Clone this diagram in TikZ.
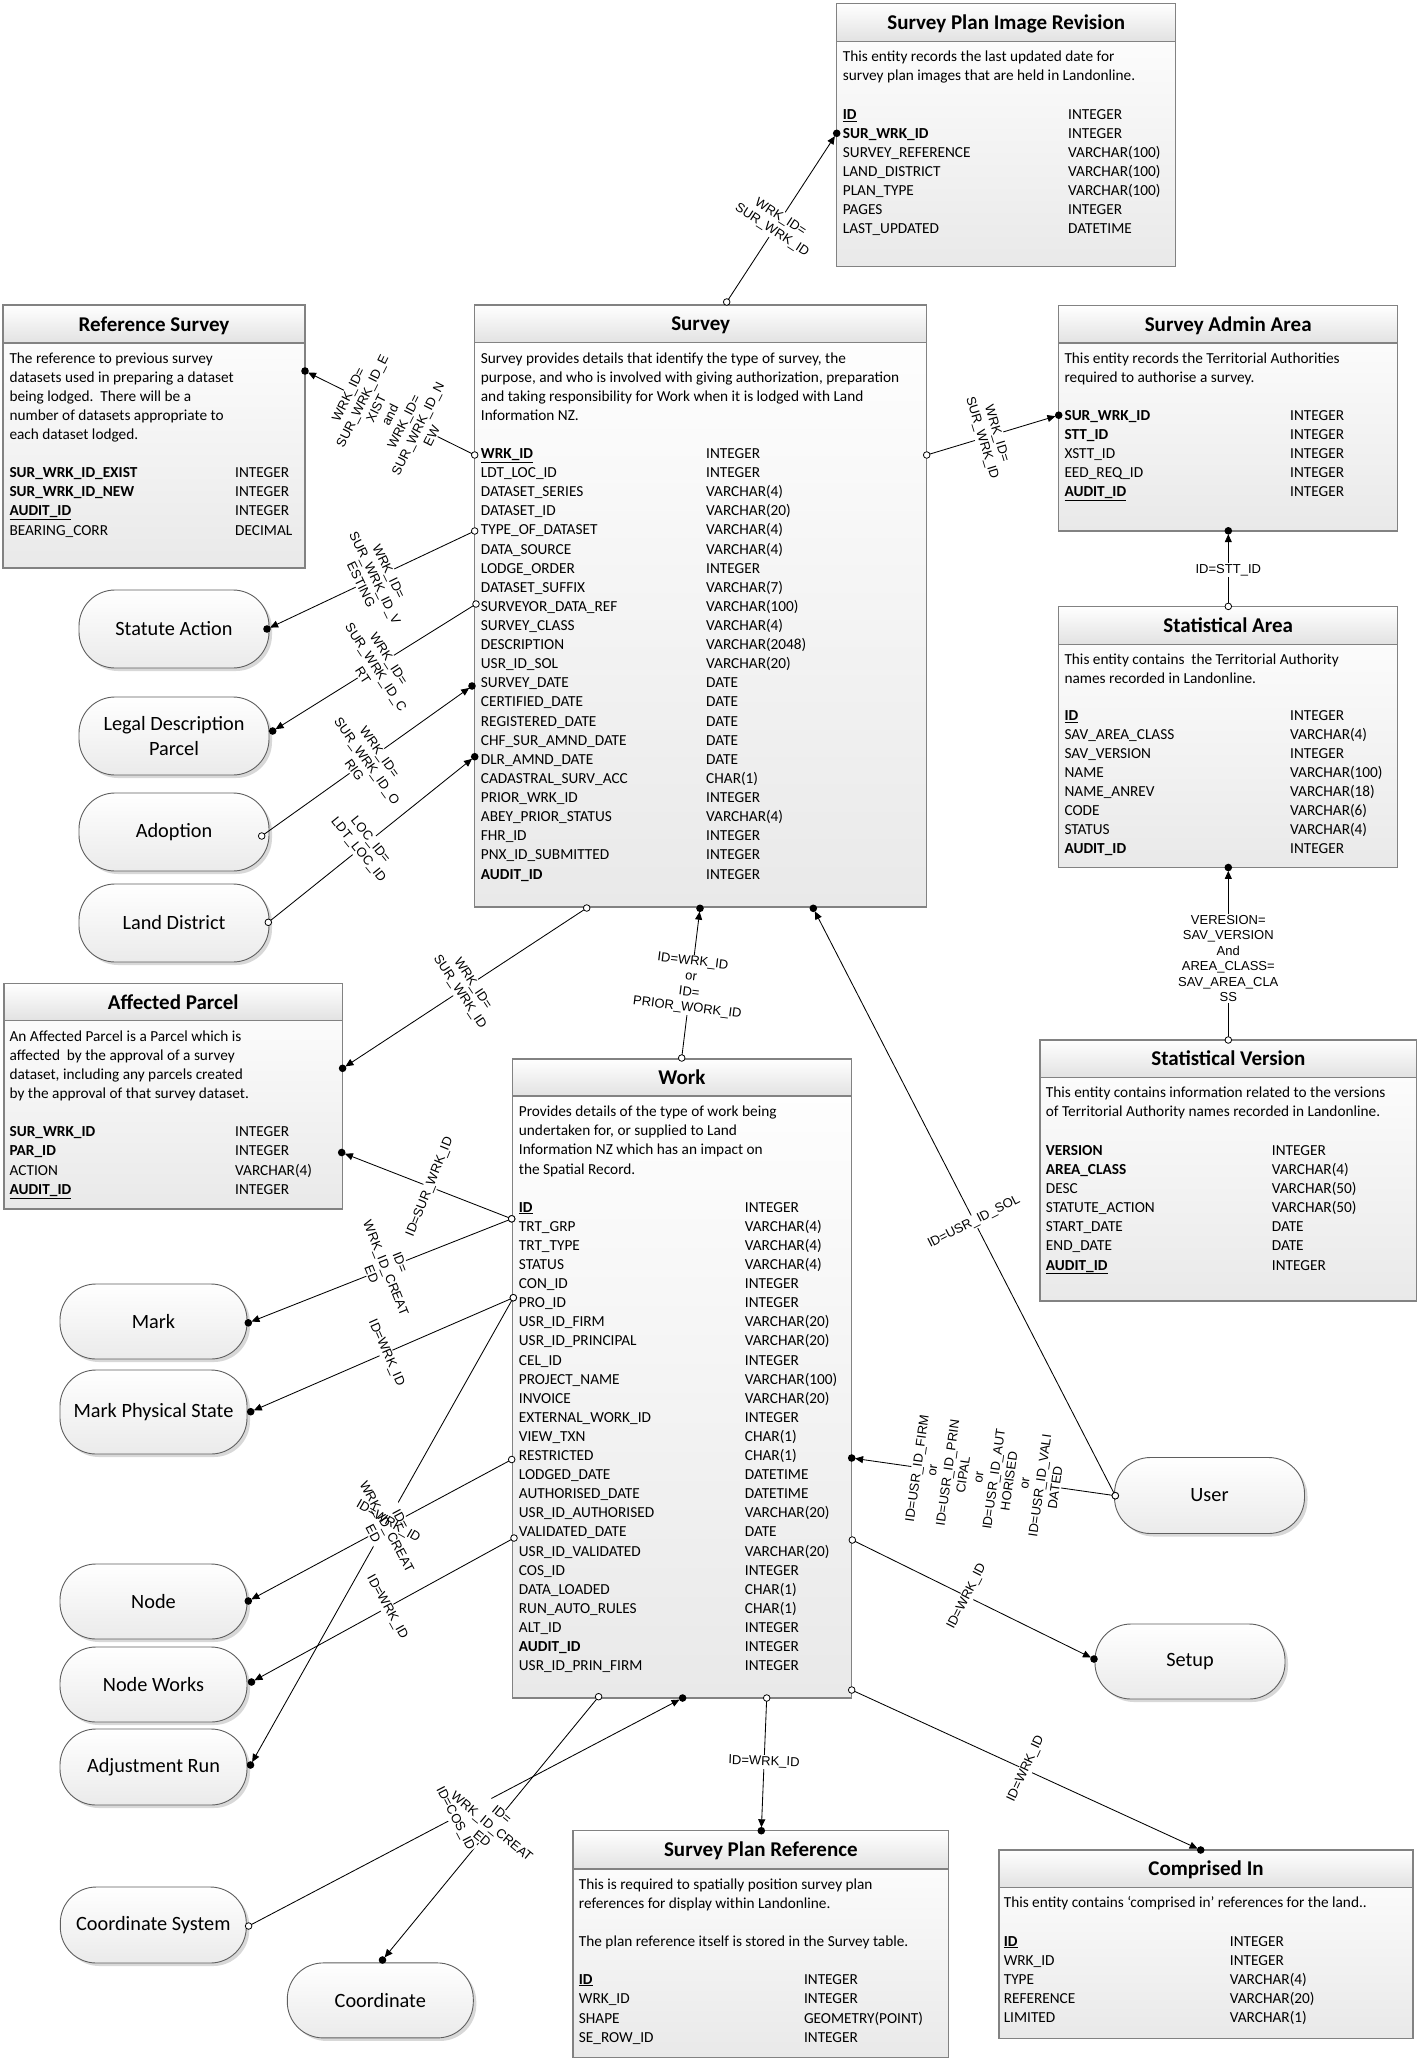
\documentclass[tikz,border=0pt]{standalone}
\usepackage{fontspec}
\setmainfont{Carlito}
\newfontfamily\lblfont{Liberation Sans}
\usetikzlibrary{arrows.meta,shadows}
\pgfdeclarelayer{conn}
\pgfdeclarelayer{lblbg}
\pgfdeclarelayer{front}
\pgfsetlayers{main,conn,lblbg,front}
\definecolor{bordgray}{RGB}{130,130,130}
\definecolor{bodybot}{RGB}{233,233,233}
\definecolor{hdrbot}{RGB}{226,226,226}
\definecolor{stadgray}{RGB}{95,95,95}
\tikzset{
  ebody/.style={top color=white, bottom color=bodybot, inner sep=0pt, outer sep=0pt, anchor=north west, draw=none},
  hdrshade/.style={top color=white, bottom color=hdrbot},
  hdrsep/.style={draw=bordgray, line width=1.3pt},
  eframe/.style={draw=bordgray, line width=1.5pt},
  etitle/.style={font=\fontsize{21}{24}\selectfont\bfseries, inner sep=0pt, anchor=base},
  fld/.style={font=\fontsize{15.3}{18.6}\selectfont, inner sep=0pt, anchor=base west},
  stad/.style={draw=stadgray, line width=0.9pt, rounded corners=36pt, top color=white, bottom color=gray!16,
    minimum width=190, minimum height=78, font=\fontsize{20.3}{25}\selectfont, align=center,
    drop shadow={shadow xshift=3pt, shadow yshift=-3pt, opacity=0.3, fill=gray}},
  cline/.style={draw=black, line width=0.85pt, -{Triangle[length=8pt,width=7pt]}, shorten >=3.4pt},
  odot/.style={draw=black, line width=0.8pt, fill=white},
  lbltxt/.style={inner sep=1pt, font=\lblfont\fontsize{13}{15.5}\selectfont, align=center}
}
\newcommand{\mkentity}[7]{%
  \node[ebody, minimum width={#4-#2}, minimum height={#5-#3}] (#1) at (#2,#3) {};
  \path[hdrshade] (#2,#3) rectangle (#4,#6);
  \draw[hdrsep] (#2,#6) -- (#4,#6);
  \draw[eframe] (#1.north west) rectangle (#1.south east);
  \node[etitle] (#1-title) at ({(#2+#4)/2},{(#3+#6)/2+7}) {#7};
}
\newcommand{\mkdesc}[5]{\foreach \dl [count=\i from 0] in {#5} {\node[fld] (#1-d\i) at (#2,{#3+\i*#4+5.1}) {\dl};}}
\newcommand{\mkfields}[6]{\foreach \fa/\ty [count=\i from 0] in {#6} {%
  \node[fld] (#1-f\i) at (#2,{#4+\i*#5+5.1}) {\fa};
  \node[fld] (#1-t\i) at (#3,{#4+\i*#5+5.1}) {\ty};}}
\newcommand{\mkconn}[2]{%
  \begin{pgfonlayer}{conn}\draw[cline] (#1) -- (#2);\end{pgfonlayer}
  \begin{pgfonlayer}{front}\draw[odot] (#1) circle (3.3pt); \fill (#2) circle (3.8pt);\end{pgfonlayer}}
\newcommand{\mklbl}[4]{%
  \begin{pgfonlayer}{front}\node[lbltxt,rotate=#3] (#1) at (#2) {#4};\end{pgfonlayer}
  \begin{pgfonlayer}{lblbg}\fill[white] (#1.north west) -- (#1.north east) -- (#1.south east) -- (#1.south west) -- cycle;\end{pgfonlayer}}

\begin{document}
\begin{tikzpicture}[x=1pt,y=-1pt]
\fill[white] (0,0) rectangle (1418,2061);
\useasboundingbox (0,0) rectangle (1418,2061);

% ---------------- entities ----------------
\mkentity{spir}{836.7}{3.3}{1175.7}{266.7}{41.3}{Survey Plan Image Revision}
\mkdesc{spir}{842.7}{56.7}{19}{{This entity records the last updated date for},{survey plan images that are held in Landonline.}}
\mkfields{spir}{842.7}{1068}{114.3}{19}{\textbf{\underline{ID}}/INTEGER,\textbf{SUR\_WRK\_ID}/INTEGER,SURVEY\_REFERENCE/VARCHAR(100),LAND\_DISTRICT/VARCHAR(100),PLAN\_TYPE/VARCHAR(100),PAGES/INTEGER,LAST\_UPDATED/DATETIME}

\mkentity{rs}{3}{305}{305}{568}{343}{Reference Survey}
\mkdesc{rs}{9.3}{358}{19}{{The reference to previous survey},{datasets used in preparing a dataset},{being lodged.\ \ There will be a},{number of datasets appropriate to},{each dataset lodged.}}
\mkfields{rs}{9.3}{235}{472}{19.3}{\textbf{SUR\_WRK\_ID\_EXIST}/INTEGER,\textbf{SUR\_WRK\_ID\_NEW}/INTEGER,\textbf{\underline{AUDIT\_ID}}/INTEGER,BEARING\_CORR/DECIMAL}

\mkentity{sv}{474.7}{305}{926.7}{907}{342.7}{Survey}
\mkdesc{sv}{480.7}{358.3}{19}{{Survey provides details that identify the type of survey, the},{purpose, and who is involved with giving authorization, preparation},{and taking responsibility for Work when it is lodged with Land},{Information NZ.}}
\mkfields{sv}{480.7}{706}{453.3}{19.12}{\textbf{\underline{WRK\_ID}}/INTEGER,LDT\_LOC\_ID/INTEGER,DATASET\_SERIES/VARCHAR(4),DATASET\_ID/VARCHAR(20),TYPE\_OF\_DATASET/VARCHAR(4),DATA\_SOURCE/VARCHAR(4),LODGE\_ORDER/INTEGER,DATASET\_SUFFIX/VARCHAR(7),SURVEYOR\_DATA\_REF/VARCHAR(100),SURVEY\_CLASS/VARCHAR(4),DESCRIPTION/VARCHAR(2048),USR\_ID\_SOL/VARCHAR(20),SURVEY\_DATE/DATE,CERTIFIED\_DATE/DATE,REGISTERED\_DATE/DATE,CHF\_SUR\_AMND\_DATE/DATE,DLR\_AMND\_DATE/DATE,CADASTRAL\_SURV\_ACC/CHAR(1),PRIOR\_WRK\_ID/INTEGER,ABEY\_PRIOR\_STATUS/VARCHAR(4),FHR\_ID/INTEGER,PNX\_ID\_SUBMITTED/INTEGER,\textbf{AUDIT\_ID}/INTEGER}

\mkentity{saa}{1058.7}{305.5}{1397.7}{530.8}{342.9}{Survey Admin Area}
\mkdesc{saa}{1064.3}{358.2}{18.9}{{This entity records the Territorial Authorities},{required to authorise a survey.}}
\mkfields{saa}{1064.3}{1290}{415.2}{19.1}{\textbf{SUR\_WRK\_ID}/INTEGER,\textbf{STT\_ID}/INTEGER,XSTT\_ID/INTEGER,EED\_REQ\_ID/INTEGER,\textbf{\underline{AUDIT\_ID}}/INTEGER}

\mkentity{sa}{1058.7}{606.4}{1397.7}{867.5}{644.2}{Statistical Area}
\mkdesc{sa}{1064.3}{659.1}{18.8}{{This entity contains\ \ the Territorial Authority},{names recorded in Landonline.}}
\mkfields{sa}{1064.3}{1290}{715.5}{19.05}{\textbf{\underline{ID}}/INTEGER,SAV\_AREA\_CLASS/VARCHAR(4),SAV\_VERSION/INTEGER,NAME/VARCHAR(100),NAME\_ANREV/VARCHAR(18),CODE/VARCHAR(6),STATUS/VARCHAR(4),\textbf{AUDIT\_ID}/INTEGER}

\mkentity{svr}{1040}{1040}{1416.7}{1301}{1077.3}{Statistical Version}
\mkdesc{svr}{1045.7}{1092.3}{18.7}{{This entity contains information related to the versions},{of Territorial Authority names recorded in Landonline.}}
\mkfields{svr}{1045.7}{1271.7}{1150}{19.15}{\textbf{VERSION}/INTEGER,\textbf{AREA\_CLASS}/VARCHAR(4),DESC/VARCHAR(50),STATUTE\_ACTION/VARCHAR(50),START\_DATE/DATE,END\_DATE/DATE,\textbf{\underline{AUDIT\_ID}}/INTEGER}

\mkentity{ap}{3.8}{983.3}{342.6}{1209}{1020.7}{Affected Parcel}
\mkdesc{ap}{9.4}{1036}{19.2}{{An Affected Parcel is a Parcel which is},{affected\ \ by the approval of a survey},{dataset, including any parcels created},{by the approval of that survey dataset.}}
\mkfields{ap}{9.4}{235}{1131}{19.5}{\textbf{SUR\_WRK\_ID}/INTEGER,\textbf{PAR\_ID}/INTEGER,ACTION/VARCHAR(4),\textbf{\underline{AUDIT\_ID}}/INTEGER}

\mkentity{wk}{512.3}{1059}{851.7}{1698}{1096.1}{Work}
\mkdesc{wk}{518.7}{1111.2}{19.3}{{Provides details of the type of work being},{undertaken for, or supplied to Land},{Information NZ which has an impact on},{the Spatial Record.}}
\mkfields{wk}{518.7}{744.7}{1207.1}{19.1}{\textbf{\underline{ID}}/INTEGER,TRT\_GRP/VARCHAR(4),TRT\_TYPE/VARCHAR(4),STATUS/VARCHAR(4),CON\_ID/INTEGER,PRO\_ID/INTEGER,USR\_ID\_FIRM/VARCHAR(20),USR\_ID\_PRINCIPAL/VARCHAR(20),CEL\_ID/INTEGER,PROJECT\_NAME/VARCHAR(100),INVOICE/VARCHAR(20),EXTERNAL\_WORK\_ID/INTEGER,VIEW\_TXN/CHAR(1),RESTRICTED/CHAR(1),LODGED\_DATE/DATETIME,AUTHORISED\_DATE/DATETIME,USR\_ID\_AUTHORISED/VARCHAR(20),VALIDATED\_DATE/DATE,USR\_ID\_VALIDATED/VARCHAR(20),COS\_ID/INTEGER,DATA\_LOADED/CHAR(1),RUN\_AUTO\_RULES/CHAR(1),ALT\_ID/INTEGER,\textbf{AUDIT\_ID}/INTEGER,USR\_ID\_PRIN\_FIRM/INTEGER}

\mkentity{spr}{573.2}{1830.7}{948.5}{2057.3}{1869}{Survey Plan Reference}
\mkdesc{spr}{578.7}{1884.3}{19}{{This is required to spatially position survey plan},{references for display within Landonline.}}
\mkdesc{sprb}{578.7}{1941.7}{19}{{The plan reference itself is stored in the Survey table.}}
\mkfields{spr}{578.7}{803.8}{1979}{19.55}{\textbf{\underline{ID}}/INTEGER,WRK\_ID/INTEGER,SHAPE/GEOMETRY(POINT),SE\_ROW\_ID/INTEGER}

\mkentity{ci}{999}{1850}{1413}{2038.3}{1887.3}{Comprised In}
\mkdesc{ci}{1003.6}{1902.3}{19}{{This entity contains ‘comprised in’ references for the land..}}
\mkfields{ci}{1003.6}{1229.7}{1941}{19.1}{\textbf{\underline{ID}}/INTEGER,WRK\_ID/INTEGER,TYPE/VARCHAR(4),REFERENCE/VARCHAR(20),LIMITED/VARCHAR(1)}

% ---------------- rounded shapes ----------------
\node[stad] (statute) at (174,629) {Statute Action};
\node[stad] (legal) at (174,736) {Legal Description\\Parcel};
\node[stad] (adoption) at (174,832) {Adoption};
\node[stad] (landdist) at (174,923) {Land District};
\node[stad, minimum width=187, minimum height=75] (mark) at (153.5,1321.5) {Mark};
\node[stad, minimum width=187, minimum height=84] (markps) at (153.5,1412) {Mark Physical State};
\node[stad, minimum width=187, minimum height=75] (node) at (153.5,1601.5) {Node};
\node[stad, minimum width=187, minimum height=75] (nodeworks) at (153.5,1684.5) {Node Works};
\node[stad, minimum width=187, minimum height=76] (adjrun) at (153.5,1767) {Adjustment Run};
\node[stad, minimum width=186, minimum height=76] (coordsys) at (153.3,1925) {Coordinate System};
\node[stad, minimum width=186, minimum height=75] (coord) at (380.3,2000.4) {Coordinate};
\node[stad, minimum width=190, minimum height=76] (user) at (1209.5,1495.5) {User};
\node[stad, minimum width=190, minimum height=75] (setup) at (1190,1661.5) {Setup};

% ---------------- connector ports ----------------
\coordinate (svTop1) at (726.7,302);
\coordinate (spirIn) at (836.7,133.3);
\coordinate (svL1) at (474.7,455);
\coordinate (rsIn) at (305,371);
\coordinate (svR1) at (926.7,455);
\coordinate (saaIn) at (1058.7,415.2);
\coordinate (saTop) at (1228.3,606.4);
\coordinate (saaBot) at (1228.3,530.8);
\coordinate (svrTop) at (1228.3,1040);
\coordinate (saBot) at (1228.3,867.5);
\coordinate (svL2) at (474.7,531);
\coordinate (statIn) at (267,629);
\coordinate (svL3) at (476,604);
\coordinate (ldpIn) at (272.7,731);
\coordinate (adOut) at (261.7,836);
\coordinate (svL4) at (472,686);
\coordinate (ldOut) at (268.3,922.3);
\coordinate (svL5) at (474.7,756.7);
\coordinate (svB1) at (586.7,908);
\coordinate (apIn1) at (342.6,1068.3);
\coordinate (wkTop) at (681.7,1058);
\coordinate (svB2) at (700,908.3);
\coordinate (usrOut) at (1115.3,1495.7);
\coordinate (svB3) at (813.3,908.3);
\coordinate (wkR1) at (851.7,1458);
\coordinate (wkR2) at (852.3,1540);
\coordinate (setIn) at (1094,1659);
\coordinate (wkL1) at (511.7,1218.8);
\coordinate (apIn2) at (341.7,1152.5);
\coordinate (markIn) at (248.3,1322.8);
\coordinate (wkL2) at (513.3,1297.7);
\coordinate (mpsIn) at (250.7,1411.7);
\coordinate (arIn) at (250.5,1765);
\coordinate (wkL3) at (511.7,1459.5);
\coordinate (nodeIn) at (248.3,1601);
\coordinate (wkL4) at (514,1538);
\coordinate (nwIn) at (251.5,1682);
\coordinate (wkB1) at (598.6,1696.7);
\coordinate (coIn) at (382.5,1960);
\coordinate (csOut) at (248.6,1926);
\coordinate (wkB2) at (682.6,1698);
\coordinate (wkB3) at (766.7,1698);
\coordinate (sprIn) at (761.3,1830.7);
\coordinate (wkB4) at (851.7,1690);
\coordinate (ciIn) at (1200.7,1850);

% ---------------- connectors ----------------
\mkconn{svTop1}{spirIn}
\mkconn{svL1}{rsIn}
\mkconn{svR1}{saaIn}
\mkconn{saTop}{saaBot}
\mkconn{svrTop}{saBot}
\mkconn{svL2}{statIn}
\mkconn{svL3}{ldpIn}
\mkconn{adOut}{svL4}
\mkconn{ldOut}{svL5}
\mkconn{svB1}{apIn1}
\mkconn{wkTop}{svB2}
\mkconn{usrOut}{svB3}
\mkconn{usrOut}{wkR1}
\mkconn{wkR2}{setIn}
\mkconn{wkL1}{apIn2}
\mkconn{wkL1}{markIn}
\mkconn{wkL2}{mpsIn}
\mkconn{wkL2}{arIn}
\mkconn{wkL3}{nodeIn}
\mkconn{wkL4}{nwIn}
\mkconn{wkB1}{coIn}
\mkconn{csOut}{wkB2}
\mkconn{wkB3}{sprIn}
\mkconn{wkB4}{ciIn}

% ---------------- labels ----------------
\mklbl{l1}{776,224}{-33}{WRK\_ID=\\SUR\_WRK\_ID}
\mklbl{l2}{390,415}{63.5}{WRK\_ID=\\SUR\_WRK\_ID\_E\\XIST\\and\\WRK\_ID=\\SUR\_WRK\_ID\_N\\EW}
\mklbl{l3}{989,436}{-73}{WRK\_ID=\\SUR\_WRK\_ID}
\mklbl{l4}{1228.3,570}{0}{ID=STT\_ID}
\mklbl{l5}{1228.3,958.7}{0}{VERESION=\\SAV\_VERSION\\And\\AREA\_CLASS=\\SAV\_AREA\_CLA\\SS}
\mklbl{l6}{375,578}{-64}{WRK\_ID=\\SUR\_WRK\_ID\_V\\ESTING}
\mklbl{l7}{376,667}{-57}{WRK\_ID=\\SUR\_WRK\_ID\_C\\RT}
\mklbl{l8}{367,761}{-54.5}{WRK\_ID=\\SUR\_WRK\_ID\_O\\RIG}
\mklbl{l9}{364,845}{-51}{LOC\_ID=\\LDT\_LOC\_ID}
\mklbl{l10}{466,988}{-56.5}{WRK\_ID=\\SUR\_WRK\_ID}
\mklbl{l11}{690,985}{-7}{ID=WRK\_ID\\or\\ID=\\PRIOR\_WORK\_ID}
\mklbl{l12}{974,1222}{27}{ID=USR\_ID\_SOL}
\mklbl{l13}{986,1478}{82}{ID=USR\_ID\_FIRM\\or\\ID=USR\_ID\_PRIN\\CIPAL\\or\\ID=USR\_ID\_AUT\\HORISED\\or\\ID=USR\_ID\_VALI\\DATED}
\mklbl{l14}{967,1596.5}{63}{ID=WRK\_ID}
\mklbl{l15}{430,1187}{68}{ID=SUR\_WRK\_ID}
\mklbl{l16}{386,1268}{-68}{ID=\\WRK\_ID\_CREAT\\ED}
\mklbl{l17}{386,1353}{-66}{ID=WRK\_ID}
\mklbl{l18}{388,1522}{-30}{ID=WRK\_ID}
\mklbl{l19}{387,1526.5}{-62}{ID=\\WRK\_ID\_CREAT\\ED}
\mklbl{l20}{387,1607.5}{-61}{ID=WRK\_ID}
\mklbl{l21}{492,1826.5}{-39.4}{ID=\\WRK\_ID\_CREAT\\ED}
\mklbl{l22}{455,1818.5}{-62.5}{ID=COS\_ID}
\mklbl{l23}{764,1762}{-2}{ID=WRK\_ID}
\mklbl{l24}{1026,1769}{65}{ID=WRK\_ID}
\end{tikzpicture}
\end{document}
